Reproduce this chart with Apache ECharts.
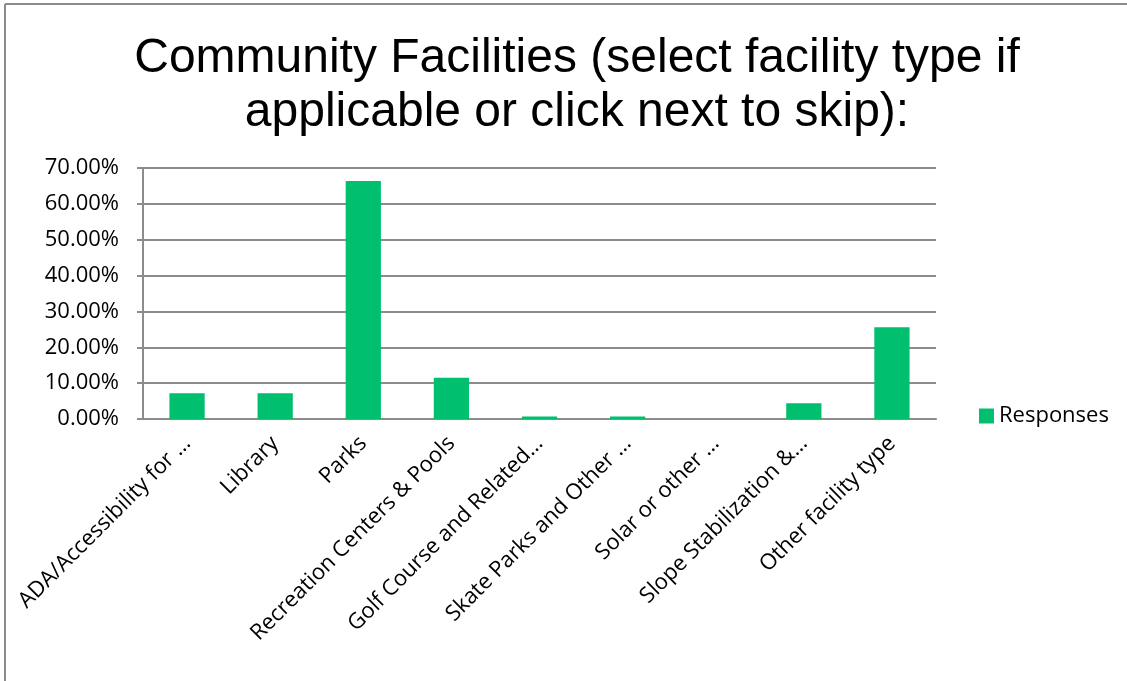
<!DOCTYPE html>
<html>
<head>
<meta charset="utf-8">
<script src="https://cdn.jsdelivr.net/npm/echarts@6/dist/echarts.min.js"></script>
<style>
    html, body { margin: 0; padding: 0; background: #fff; }
    #chart { width: 1127px; height: 681px; }
</style>
</head>
<body>
<div id="chart"></div>
<script>
// categories as shown (truncated as in the picture)
const categories = [
    'ADA/Accessibility for …',
    'Library',
    'Parks',
    'Recreation Centers & Pools',
    'Golf Course and Related…',
    'Skate Parks and Other …',
    'Solar or other …',
    'Slope Stabilization &…',
    'Other facility type'
];
// percent of responses
const responses = [7.2, 7.2, 66.4, 11.5, 0.7, 0.7, 0, 4.4, 25.6];
const yTicks = [0, 10, 20, 30, 40, 50, 60, 70];

const chart = echarts.init(document.getElementById('chart'));
const gray = '#8c8c8c';
const labelFont = '"Open Sans", sans-serif';

const option = {
    animation: false,
    title: {
        text: 'Community Facilities (select facility type if\napplicable or click next to skip):',
        left: 572,
        textAlign: 'center',
        top: 27,
        textStyle: {
            fontFamily: '"Liberation Sans", Arial, sans-serif',
            fontWeight: 'normal',
            fontSize: 48,
            lineHeight: 54,
            color: '#000'
        }
    },
    legend: {
        left: 974,
        top: 400,
        icon: 'rect',
        itemWidth: 15,
        itemHeight: 15,
        itemGap: 8,
        textStyle: { fontFamily: labelFont, fontSize: 22, color: '#000' },
        data: ['Responses']
    },
    grid: { left: 143, right: 191, top: 168, bottom: 262 },
    xAxis: {
        type: 'category',
        data: categories,
        axisLine: { lineStyle: { color: gray, width: 2 } },
        axisTick: { length: 6, lineStyle: { color: gray, width: 2 } },
        axisLabel: {
            rotate: 45,
            margin: 21,
            interval: 0,
            fontFamily: labelFont,
            fontSize: 22,
            color: '#000'
        }
    },
    yAxis: {
        type: 'value',
        min: yTicks[0],
        max: yTicks[yTicks.length - 1],
        interval: 10,
        axisLine: { show: true, lineStyle: { color: gray, width: 2 } },
        axisTick: { show: true, length: 6, lineStyle: { color: gray, width: 2 } },
        splitLine: { lineStyle: { color: gray, width: 2 } },
        axisLabel: {
            margin: 24,
            fontFamily: labelFont,
            fontSize: 22,
            color: '#000',
            formatter: v => v.toFixed(2) + '%'
        }
    },
    series: [{
        name: 'Responses',
        type: 'bar',
        data: responses,
        barCategoryGap: '60%',
        itemStyle: { color: '#00bf6f' }
    }],
    graphic: [
        { type: 'line', shape: { x1: 5, y1: 4, x2: 1127, y2: 4 }, style: { stroke: gray, lineWidth: 2 } },
        { type: 'line', shape: { x1: 5, y1: 4, x2: 5, y2: 681 }, style: { stroke: gray, lineWidth: 2 } }
    ]
};
chart.setOption(option);
</script>
</body>
</html>
